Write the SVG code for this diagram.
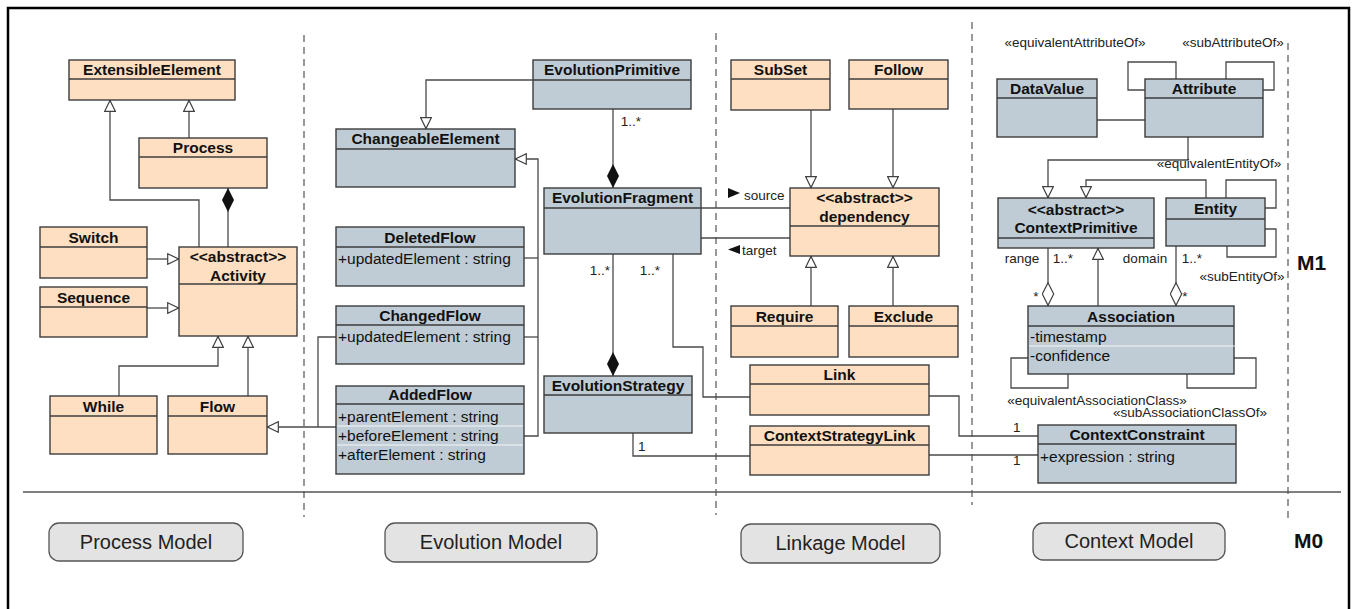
<svg xmlns="http://www.w3.org/2000/svg" width="1353" height="609" viewBox="0 0 1353 609">
<style>
  .o { fill:#FEDFC1; stroke:#3c3c3c; stroke-width:1.4; }
  .b { fill:#BFCCD5; stroke:#3c3c3c; stroke-width:1.4; }
  .dv { stroke:#3c3c3c; stroke-width:1.4; }
  .sep { stroke:#ffffff; stroke-width:1; opacity:.85; }
  .t { font-family:"Liberation Sans", Arial, sans-serif; font-weight:bold; font-size:15.5px; text-anchor:middle; fill:#111; }
  .a { font-family:"Liberation Sans", Arial, sans-serif; font-size:15.5px; fill:#111; }
  .l { font-family:"Liberation Sans", Arial, sans-serif; font-size:13.5px; fill:#222; }
  .lc { font-family:"Liberation Sans", Arial, sans-serif; font-size:13.5px; fill:#222; text-anchor:middle; }
  .ln { fill:none; stroke:#4a4a4a; stroke-width:1.3; }
  .g { marker-end:url(#gen); }
  .c { marker-end:url(#comp); }
  .ag { marker-end:url(#aggr); }
  .dash { stroke:#555; stroke-width:1.2; stroke-dasharray:7 5; }
  .btn { fill:#E3E3E3; stroke:#555; stroke-width:1.3; }
  .bt { font-family:"Liberation Sans", Arial, sans-serif; font-size:20px; text-anchor:middle; fill:#222; }
  .m { font-family:"Liberation Sans", Arial, sans-serif; font-weight:bold; font-size:21px; fill:#111; }
</style>
<defs>
  <marker id="gen" viewBox="0 0 12 12" refX="12" refY="6" markerWidth="12" markerHeight="12" markerUnits="userSpaceOnUse" orient="auto">
    <path d="M0.7,0.7 L11.6,6 L0.7,11.3 Z" fill="#fff" stroke="#404040" stroke-width="1.2"/>
  </marker>
  <marker id="comp" viewBox="0 0 24 13" refX="24" refY="6.5" markerWidth="24" markerHeight="13" markerUnits="userSpaceOnUse" orient="auto">
    <path d="M0,6.5 L12,0.5 L24,6.5 L12,12.5 Z" fill="#111"/>
  </marker>
  <marker id="aggr" viewBox="0 0 24 13" refX="24" refY="6.5" markerWidth="24" markerHeight="13" markerUnits="userSpaceOnUse" orient="auto">
    <path d="M0.7,6.5 L12,0.8 L23.3,6.5 L12,12.2 Z" fill="#fff" stroke="#404040" stroke-width="1.2"/>
  </marker>
</defs>

<rect width="1353" height="609" fill="#fff"/>
<!-- outer frame (open at the bottom edge) -->
<path d="M8,615 L8,8 L1349,8 L1349,615" fill="none" stroke="#000" stroke-width="2.5"/>

<!-- model separators -->
<g id="separators">
  <line class="dash" x1="304" y1="35" x2="304" y2="517"/>
  <line class="dash" x1="716" y1="33" x2="716" y2="515"/>
  <line class="dash" x1="972" y1="22" x2="972" y2="505"/>
  <line class="dash" x1="1288" y1="43" x2="1288" y2="523"/>
  <line x1="23" y1="492" x2="1341" y2="492" stroke="#555" stroke-width="1.3"/>
</g>

<!-- connectors -->
<g id="connectors">
  <!-- process model -->
  <path class="ln g" d="M189,138 L189,100"/>
  <path class="ln g" d="M199,247 L199,200 L110,200 L110,100"/>
  <path class="ln c" d="M228,247 L228,188"/>
  <path class="ln g" d="M147,259 L179,259"/>
  <path class="ln g" d="M147,308 L179,308"/>
  <path class="ln g" d="M119,396 L119,366 L218,366 L218,336"/>
  <path class="ln g" d="M248,396 L248,336"/>
  <!-- evolution model -->
  <path class="ln g" d="M533,80 L426,80 L426,129"/>
  <path class="ln c" d="M613,109 L613,188"/>
  <path class="ln g" d="M524,436 L538,436 L538,159 L515,159"/>
  <path class="ln" d="M524,258 L538,258"/>
  <path class="ln" d="M524,337 L538,337"/>
  <path class="ln" d="M336,337 L318,337 L318,427"/>
  <path class="ln g" d="M336,427 L267,427"/>
  <path class="ln c" d="M613,254 L613,376"/>
  <path class="ln" d="M673,254 L673,347 L703,347 L703,397 L750,397"/>
  <path class="ln" d="M633,433 L633,456 L750,456"/>
  <path class="ln" d="M701,208 L790,208"/>
  <path class="ln" d="M701,238 L790,238"/>
  <!-- linkage model -->
  <path class="ln g" d="M811,110 L811,188"/>
  <path class="ln g" d="M893,109 L893,188"/>
  <path class="ln g" d="M811,306 L811,256"/>
  <path class="ln g" d="M893,306 L893,256"/>
  <path class="ln" d="M929,396 L959,396 L959,436 L1038,436"/>
  <path class="ln" d="M929,455 L1038,455"/>
  <!-- context model -->
  <path class="ln" d="M1097,120 L1145,120"/>
  <path class="ln" d="M1176,79 L1176,62 L1128,62 L1128,90 L1145,90"/>
  <path class="ln" d="M1226,79 L1226,62 L1274,62 L1274,90 L1263,90"/>
  <path class="ln g" d="M1188,137 L1188,160 L1048,160 L1048,198"/>
  <path class="ln g" d="M1206,198 L1206,180 L1086,180 L1086,198"/>
  <path class="ln" d="M1226,198 L1226,180 L1276,180 L1276,208 L1265,208"/>
  <path class="ln" d="M1265,229 L1276,229 L1276,257 L1227,257 L1227,246"/>
  <path class="ln g" d="M1098,306 L1098,248"/>
  <path class="ln ag" d="M1048,248 L1048,306"/>
  <path class="ln ag" d="M1176,246 L1176,306"/>
  <path class="ln" d="M1028,358 L1011,358 L1011,388 L1068,388 L1068,374"/>
  <path class="ln" d="M1187,374 L1187,388 L1256,388 L1256,358 L1234,358"/>

  <!-- role / multiplicity labels -->
  <text class="lc" x="631" y="126">1..*</text>
  <text class="lc" x="600" y="275">1..*</text>
  <text class="lc" x="650" y="275">1..*</text>
  <text class="l" x="638" y="451">1</text>
  <polygon points="728,188 740,193 728,198" fill="#111"/>
  <text class="l" x="744" y="200">source</text>
  <polygon points="740,245 728,249.5 740,254" fill="#111"/>
  <text class="l" x="742" y="255">target</text>
  <text class="l" x="1013" y="432">1</text>
  <text class="l" x="1013" y="465">1</text>
  <text class="lc" x="1022" y="263">range</text>
  <text class="lc" x="1063" y="263">1..*</text>
  <text class="lc" x="1036" y="301">*</text>
  <text class="lc" x="1145" y="263">domain</text>
  <text class="lc" x="1192" y="263">1..*</text>
  <text class="lc" x="1185" y="301">*</text>
  <text class="lc" x="1075" y="47">«equivalentAttributeOf»</text>
  <text class="lc" x="1233" y="47">«subAttributeOf»</text>
  <text class="lc" x="1219" y="168">«equivalentEntityOf»</text>
  <text class="lc" x="1242" y="281">«subEntityOf»</text>
  <text class="lc" x="1097" y="405">«equivalentAssociationClass»</text>
  <text class="lc" x="1190" y="417">«subAssociationClassOf»</text>
</g>

<!-- process model classes -->
<g id="ExtensibleElement"><rect class="o" x="69" y="60" width="166" height="40"/><line class="dv" x1="69" y1="79" x2="235" y2="79"/><text class="t" x="152" y="75">ExtensibleElement</text></g>
<g id="Process"><rect class="o" x="139" y="138" width="128" height="50"/><line class="dv" x1="139" y1="157" x2="267" y2="157"/><text class="t" x="203" y="153">Process</text></g>
<g id="Switch"><rect class="o" x="40" y="227" width="107" height="51"/><line class="dv" x1="40" y1="247" x2="147" y2="247"/><text class="t" x="93.5" y="243">Switch</text></g>
<g id="Sequence"><rect class="o" x="40" y="287" width="107" height="50"/><line class="dv" x1="40" y1="307" x2="147" y2="307"/><text class="t" x="93.5" y="303">Sequence</text></g>
<g id="Activity"><rect class="o" x="179" y="247" width="118" height="89"/><line class="dv" x1="179" y1="284" x2="297" y2="284"/><text class="t" x="238" y="262">&lt;&lt;abstract&gt;&gt;</text><text class="t" x="238" y="281">Activity</text></g>
<g id="While"><rect class="o" x="50" y="396" width="107" height="58"/><line class="dv" x1="50" y1="416" x2="157" y2="416"/><text class="t" x="103.5" y="412">While</text></g>
<g id="Flow"><rect class="o" x="168" y="396" width="99" height="58"/><line class="dv" x1="168" y1="416" x2="267" y2="416"/><text class="t" x="217.5" y="412">Flow</text></g>

<!-- evolution model classes -->
<g id="EvolutionPrimitive"><rect class="b" x="533" y="60" width="158" height="49"/><line class="dv" x1="533" y1="80" x2="691" y2="80"/><text class="t" x="612" y="75">EvolutionPrimitive</text></g>
<g id="ChangeableElement"><rect class="b" x="336" y="129" width="179" height="58"/><line class="dv" x1="336" y1="149" x2="515" y2="149"/><text class="t" x="425.5" y="144">ChangeableElement</text></g>
<g id="EvolutionFragment"><rect class="b" x="544" y="188" width="157" height="66"/><line class="dv" x1="544" y1="208" x2="701" y2="208"/><text class="t" x="622.5" y="203">EvolutionFragment</text></g>
<g id="DeletedFlow"><rect class="b" x="336" y="227" width="188" height="59"/><line class="dv" x1="336" y1="247" x2="524" y2="247"/><text class="t" x="430" y="243">DeletedFlow</text><text class="a" x="338" y="264">+updatedElement : string</text></g>
<g id="ChangedFlow"><rect class="b" x="336" y="306" width="188" height="58"/><line class="dv" x1="336" y1="325" x2="524" y2="325"/><text class="t" x="430" y="321">ChangedFlow</text><text class="a" x="338" y="342">+updatedElement : string</text></g>
<g id="AddedFlow"><rect class="b" x="336" y="386" width="188" height="88"/><line class="dv" x1="336" y1="404" x2="524" y2="404"/><line class="sep" x1="337" y1="426" x2="523" y2="426"/><line class="sep" x1="337" y1="445" x2="523" y2="445"/><text class="t" x="430" y="400">AddedFlow</text><text class="a" x="338" y="422">+parentElement : string</text><text class="a" x="338" y="441">+beforeElement : string</text><text class="a" x="338" y="460">+afterElement : string</text></g>
<g id="EvolutionStrategy"><rect class="b" x="544" y="376" width="148" height="57"/><line class="dv" x1="544" y1="395" x2="692" y2="395"/><text class="t" x="618" y="391">EvolutionStrategy</text></g>

<!-- linkage model classes -->
<g id="SubSet"><rect class="o" x="731" y="60" width="99" height="50"/><line class="dv" x1="731" y1="79" x2="830" y2="79"/><text class="t" x="780.5" y="75">SubSet</text></g>
<g id="Follow"><rect class="o" x="849" y="60" width="99" height="49"/><line class="dv" x1="849" y1="79" x2="948" y2="79"/><text class="t" x="898.5" y="75">Follow</text></g>
<g id="dependency"><rect class="o" x="790" y="188" width="149" height="68"/><line class="dv" x1="790" y1="226" x2="939" y2="226"/><text class="t" x="864.5" y="203">&lt;&lt;abstract&gt;&gt;</text><text class="t" x="864.5" y="222">dependency</text></g>
<g id="Require"><rect class="o" x="731" y="306" width="107" height="51"/><line class="dv" x1="731" y1="326" x2="838" y2="326"/><text class="t" x="784.5" y="322">Require</text></g>
<g id="Exclude"><rect class="o" x="849" y="306" width="109" height="51"/><line class="dv" x1="849" y1="326" x2="958" y2="326"/><text class="t" x="903.5" y="322">Exclude</text></g>
<g id="Link"><rect class="o" x="750" y="365" width="179" height="50"/><line class="dv" x1="750" y1="384" x2="929" y2="384"/><text class="t" x="839.5" y="380">Link</text></g>
<g id="ContextStrategyLink"><rect class="o" x="750" y="426" width="179" height="49"/><line class="dv" x1="750" y1="445" x2="929" y2="445"/><text class="t" x="839.5" y="441">ContextStrategyLink</text></g>

<!-- context model classes -->
<g id="DataValue"><rect class="b" x="997" y="79" width="100" height="58"/><line class="dv" x1="997" y1="98" x2="1097" y2="98"/><text class="t" x="1047" y="94">DataValue</text></g>
<g id="Attribute"><rect class="b" x="1145" y="79" width="118" height="58"/><line class="dv" x1="1145" y1="98" x2="1263" y2="98"/><text class="t" x="1204" y="94">Attribute</text></g>
<g id="ContextPrimitive"><rect class="b" x="998" y="198" width="156" height="50"/><line class="dv" x1="998" y1="238" x2="1154" y2="238"/><text class="t" x="1076" y="215">&lt;&lt;abstract&gt;&gt;</text><text class="t" x="1076" y="233">ContextPrimitive</text></g>
<g id="Entity"><rect class="b" x="1166" y="198" width="99" height="48"/><line class="dv" x1="1166" y1="219" x2="1265" y2="219"/><text class="t" x="1215.5" y="214">Entity</text></g>
<g id="Association"><rect class="b" x="1028" y="306" width="206" height="68"/><line class="dv" x1="1028" y1="326" x2="1234" y2="326"/><line class="sep" x1="1029" y1="346" x2="1235" y2="346"/><text class="t" x="1131" y="322">Association</text><text class="a" x="1030" y="342">-timestamp</text><text class="a" x="1030" y="361">-confidence</text></g>
<g id="ContextConstraint"><rect class="b" x="1038" y="425" width="198" height="58"/><line class="dv" x1="1038" y1="444" x2="1236" y2="444"/><text class="t" x="1137" y="440">ContextConstraint</text><text class="a" x="1040" y="462">+expression : string</text></g>

<!-- model legends -->
<g id="ProcessModel"><rect class="btn" x="49" y="523" width="194" height="38" rx="10"/><text class="bt" x="146" y="549">Process Model</text></g>
<g id="EvolutionModel"><rect class="btn" x="385" y="523" width="212" height="39" rx="10"/><text class="bt" x="491" y="549">Evolution Model</text></g>
<g id="LinkageModel"><rect class="btn" x="741" y="524" width="199" height="39" rx="10"/><text class="bt" x="840.5" y="550">Linkage Model</text></g>
<g id="ContextModel"><rect class="btn" x="1033" y="523" width="192" height="37" rx="10"/><text class="bt" x="1129" y="548">Context Model</text></g>

<text class="m" x="1297" y="270">M1</text>
<text class="m" x="1294" y="548">M0</text>
</svg>
